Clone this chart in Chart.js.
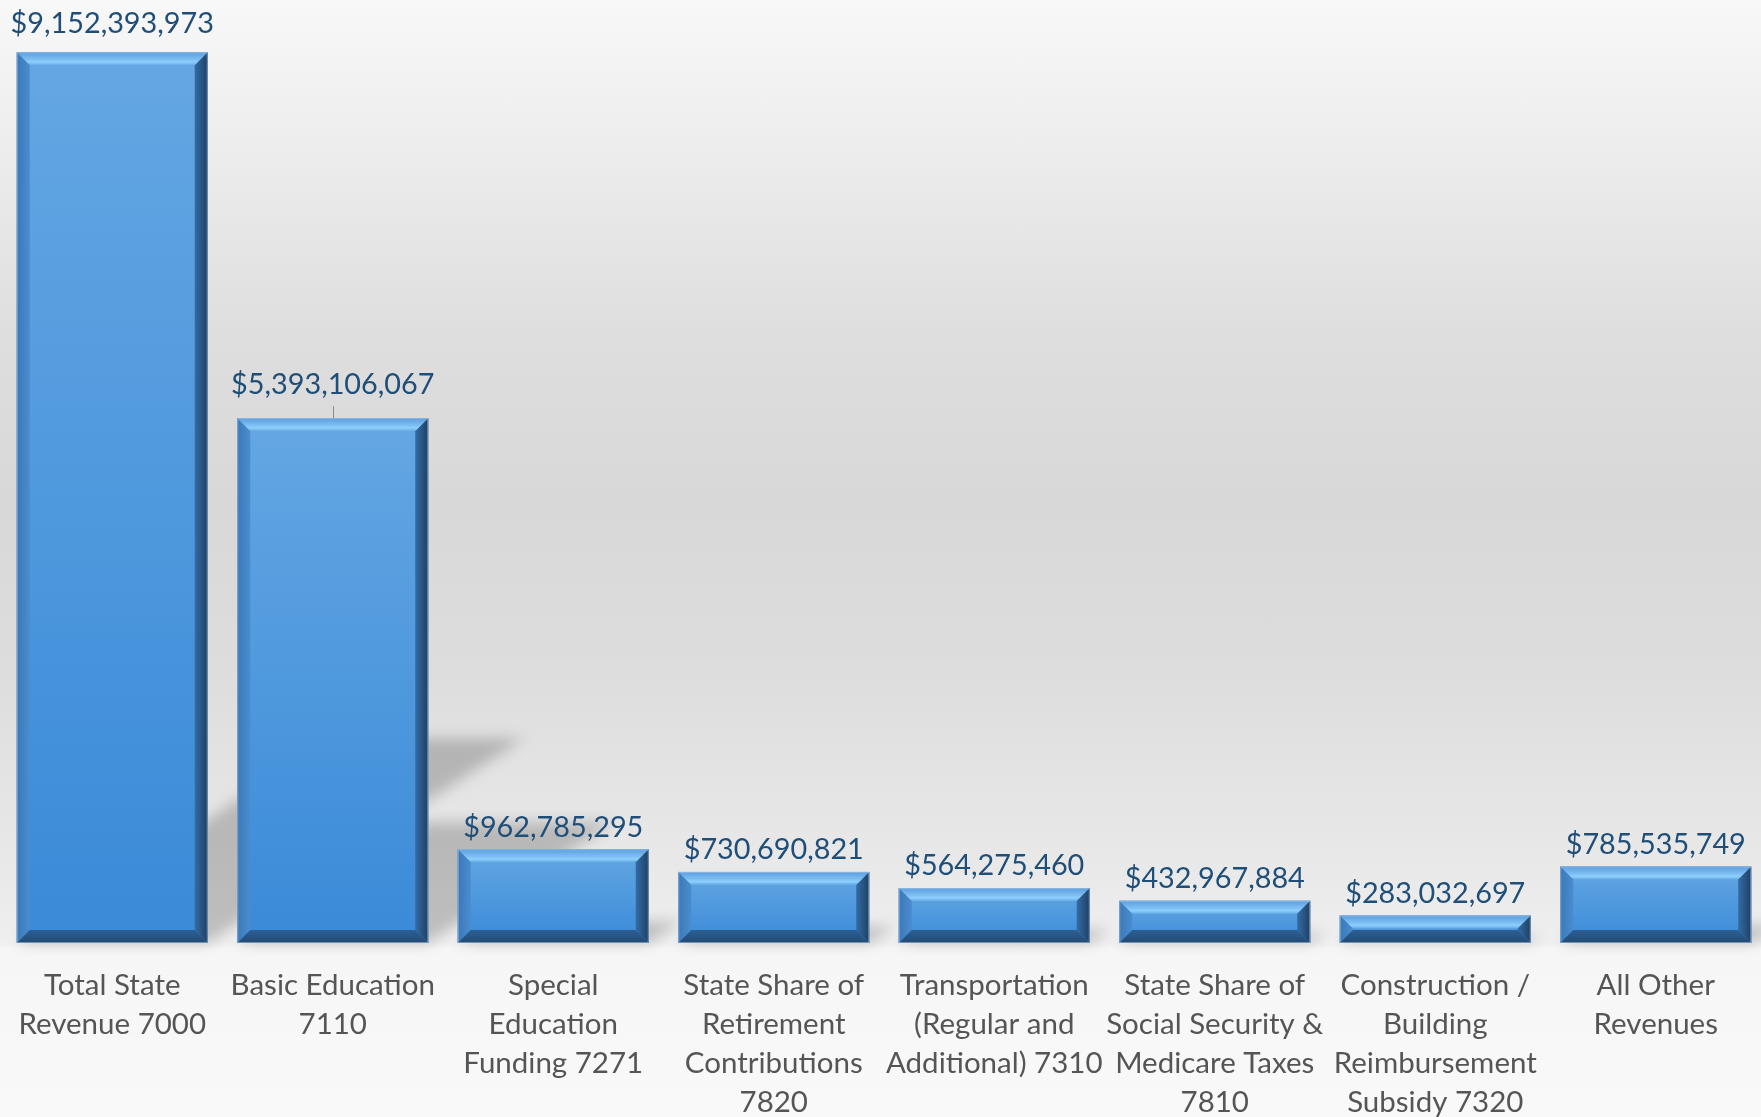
<!DOCTYPE html>
<html>
<head>
<meta charset="utf-8">
<script src="https://cdn.jsdelivr.net/npm/chart.js@4/dist/chart.umd.min.js"></script>
<style>
  html, body { margin: 0; padding: 0; }
  body {
    width: 1761px; height: 1117px; overflow: hidden;
    background: linear-gradient(to bottom,
      #f8f8f8 0%, #eeeeee 12%, #dedede 30%, #d8d8d8 45%, #dddddd 60%,
      #e9e9e9 78%, #efefef 84.4%, #f6f6f6 85%, #f9f9f9 100%);
  }
  canvas { display: block; }
</style>
</head>
<body>
<canvas id="chart" width="1766" height="1117"></canvas>
<script>
// State revenue by source
const categories = [
  ['Total State', 'Revenue 7000'],
  ['Basic Education', '7110'],
  ['Special', 'Education', 'Funding 7271'],
  ['State Share of', 'Retirement', 'Contributions', '7820'],
  ['Transportation', '(Regular and', 'Additional) 7310'],
  ['State Share of', 'Social Security &', 'Medicare Taxes', '7810'],
  ['Construction /', 'Building', 'Reimbursement', 'Subsidy 7320'],
  ['All Other', 'Revenues']
];
const revenue = [
  9152393973, 5393106067, 962785295, 730690821,
  564275460, 432967884, 283032697, 785535749
];
const yAxisMax = 9.69e9;

const FONT = 'Lato, "Open Sans", sans-serif';

function barBox(el) {
  const p = el.getProps(['x', 'y', 'base', 'width'], true);
  return { l: p.x - p.width / 2, r: p.x + p.width / 2, t: p.y, b: p.base, cx: p.x };
}

// Perspective shadow: each bar flattened and skewed back to the upper right
const barShadow = {
  id: 'barShadow',
  beforeDatasetsDraw(chart) {
    const ctx = chart.ctx;
    const meta = chart.getDatasetMeta(0);
    ctx.save();
    ctx.filter = 'blur(7px)';
    ctx.fillStyle = 'rgba(0,0,0,0.20)';
    meta.data.forEach(el => {
      const { l, r, t, b } = barBox(el);
      const h = b - t;
      const hs = h * 0.23, sh = h * 0.355;
      ctx.beginPath();
      ctx.moveTo(l, b);
      ctx.lineTo(r, b);
      ctx.lineTo(r + sh, b - hs);
      ctx.lineTo(l + sh, b - hs);
      ctx.closePath();
      ctx.fill();
    });
    ctx.restore();
  }
};

// Bevelled face on each bar
const barBevel = {
  id: 'barBevel',
  afterDatasetsDraw(chart) {
    const ctx = chart.ctx;
    const meta = chart.getDatasetMeta(0);
    meta.data.forEach(el => {
      const { l, r, t, b } = barBox(el);
      const h = b - t;
      const bv = Math.min(13, h / 2);
      ctx.save();

      // face
      let g = ctx.createLinearGradient(0, t, 0, b);
      g.addColorStop(0, '#64a7e3');
      g.addColorStop(1, '#3a8ad8');
      ctx.fillStyle = g;
      ctx.fillRect(l, t, r - l, h);

      // top
      g = ctx.createLinearGradient(0, t, 0, t + bv);
      g.addColorStop(0, '#5c9ee0');
      g.addColorStop(0.55, '#7dbef2');
      g.addColorStop(0.75, '#8dd0fd');
      g.addColorStop(1, '#66a9e6');
      ctx.fillStyle = g;
      ctx.beginPath();
      ctx.moveTo(l, t); ctx.lineTo(r, t); ctx.lineTo(r - bv, t + bv); ctx.lineTo(l + bv, t + bv);
      ctx.closePath(); ctx.fill();

      // left
      g = ctx.createLinearGradient(l, 0, l + bv, 0);
      g.addColorStop(0, '#3b78b8');
      g.addColorStop(1, '#4a8dcf');
      ctx.fillStyle = g;
      ctx.beginPath();
      ctx.moveTo(l, t); ctx.lineTo(l + bv, t + bv); ctx.lineTo(l + bv, b - bv); ctx.lineTo(l, b);
      ctx.closePath(); ctx.fill();

      // right
      g = ctx.createLinearGradient(r - bv, 0, r, 0);
      g.addColorStop(0, '#336ca6');
      g.addColorStop(1, '#203f62');
      ctx.fillStyle = g;
      ctx.beginPath();
      ctx.moveTo(r, t); ctx.lineTo(r, b); ctx.lineTo(r - bv, b - bv); ctx.lineTo(r - bv, t + bv);
      ctx.closePath(); ctx.fill();

      // bottom
      g = ctx.createLinearGradient(0, b - bv, 0, b);
      g.addColorStop(0, '#2c5f94');
      g.addColorStop(1, '#234a73');
      ctx.fillStyle = g;
      ctx.beginPath();
      ctx.moveTo(l, b); ctx.lineTo(r, b); ctx.lineTo(r - bv, b - bv); ctx.lineTo(l + bv, b - bv);
      ctx.closePath(); ctx.fill();

      // thin light rim
      ctx.strokeStyle = 'rgba(170,195,220,0.6)';
      ctx.lineWidth = 1;
      ctx.strokeRect(l + 0.5, t + 0.5, r - l - 1, h - 1);
      ctx.restore();
    });
  }
};

// Currency labels above bars; the second label sits higher with a leader line
const valueLabels = {
  id: 'valueLabels',
  afterDatasetsDraw(chart) {
    const ctx = chart.ctx;
    const meta = chart.getDatasetMeta(0);
    const data = chart.data.datasets[0].data;
    ctx.save();
    ctx.font = '28.8px ' + FONT;
    ctx.fillStyle = '#1f4e79';
    ctx.textAlign = 'center';
    ctx.textBaseline = 'middle';
    meta.data.forEach((el, i) => {
      const { t, cx } = barBox(el);
      const off = i === 0 ? 29 : i === 1 ? 33 : 22;
      ctx.fillText('$' + data[i].toLocaleString('en-US'), cx, t - off);
      if (i === 1) {
        ctx.strokeStyle = '#8c8c8c';
        ctx.lineWidth = 1;
        ctx.beginPath();
        ctx.moveTo(Math.round(cx) + 0.5, t - 12);
        ctx.lineTo(Math.round(cx) + 0.5, t);
        ctx.stroke();
      }
    });
    ctx.restore();
  }
};

new Chart(document.getElementById('chart'), {
  type: 'bar',
  data: {
    labels: categories,
    datasets: [{
      data: revenue,
      backgroundColor: '#4a90d9',
      borderWidth: 0,
      barPercentage: 0.866,
      categoryPercentage: 1
    }]
  },
  options: {
    responsive: false,
    devicePixelRatio: 1,
    animation: false,
    layout: { padding: { left: 2, right: 0, top: 0, bottom: 0 } },
    plugins: { legend: { display: false }, tooltip: { enabled: false } },
    scales: {
      y: { display: false, min: 0, max: yAxisMax },
      x: {
        grid: { display: false, drawTicks: false },
        border: { display: false },
        ticks: {
          autoSkip: false,
          maxRotation: 0,
          padding: 23,
          color: '#555555',
          font: { family: FONT, size: 29.5, lineHeight: 1.325 }
        },
        afterFit(axis) {
          axis.height = 174;
          axis.paddingLeft = 0;
          axis.paddingRight = 0;
        }
      }
    }
  },
  plugins: [barShadow, barBevel, valueLabels]
});
</script>
</body>
</html>
